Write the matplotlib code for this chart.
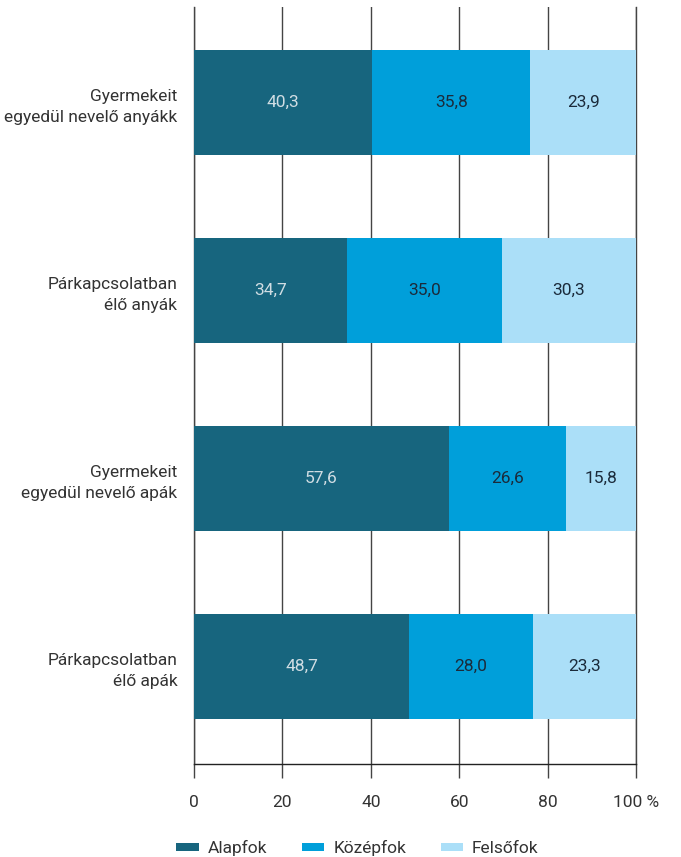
import matplotlib.pyplot as plt
import numpy as np

categories = ['Gyermekeit\negyedül nevelő anyákk', 'Párkapcsolatban\nélő anyák',
              'Gyermekeit\negyedül nevelő apák', 'Párkapcsolatban\nélő apák']
alapfok = [40.3, 34.7, 57.6, 48.7]
kozepfok = [35.8, 35.0, 26.6, 28.0]
felsofok = [23.9, 30.3, 15.8, 23.3]
series_names = ['Alapfok', 'Középfok', 'Felsőfok']
colors = ['#17657e', '#009fda', '#abdff8']
text_colors = ['#d0dde3', '#1b2b3b', '#1b2b3b']

plt.rcParams['font.family'] = ['Roboto', 'DejaVu Sans']

fig = plt.figure(figsize=(6.81, 8.57), dpi=100)
ax = fig.add_axes([194 / 681, 1 - 764 / 857, 442 / 681, 757 / 857])

y = np.arange(len(categories))
left = np.zeros(len(categories))
for vals, name, col, tcol in zip([alapfok, kozepfok, felsofok], series_names, colors, text_colors):
    vals = np.array(vals)
    ax.barh(y, vals, left=left, height=0.56, color=col, label=name, zorder=3)
    for yi, l, v in zip(y, left, vals):
        ax.text(l + v / 2, yi, f'{v:.1f}'.replace('.', ','), ha='center', va='center',
                color=tcol, fontsize=12.5, zorder=4)
    left += vals

ax.set_xlim(0, 100)
ax.set_ylim(3.519, -0.508)
ax.set_xticks([0, 20, 40, 60, 80, 100])
ax.set_xticklabels(['0', '20', '40', '60', '80', '100 %'], fontsize=12.5, color='#333333')
ax.set_yticks(y)
ax.set_yticklabels(categories, fontsize=12.5, color='#333333', linespacing=1.5)
ax.tick_params(axis='y', length=0, pad=12)
ax.tick_params(axis='x', length=10, width=1, color='#444444', pad=12)
ax.grid(axis='x', color='#444444', linewidth=1, zorder=0)
ax.axvline(100, color='#444444', linewidth=1, clip_on=False, zorder=0)
ax.axvline(0, color='#444444', linewidth=1, clip_on=False, zorder=0)
for s in ['top', 'right', 'left']:
    ax.spines[s].set_visible(False)
ax.spines['bottom'].set_color('#222222')
ax.spines['bottom'].set_linewidth(1)

handles, labels = ax.get_legend_handles_labels()
leg = fig.legend(handles, labels, loc='center', bbox_to_anchor=(0.525, 1 - 848 / 857), ncol=3,
                 frameon=False, fontsize=12.5, handlelength=1.3, handleheight=0.35,
                 columnspacing=2.0, handletextpad=0.5)
for t in leg.get_texts():
    t.set_color('#333333')

fig.savefig('out.png', dpi=100)
